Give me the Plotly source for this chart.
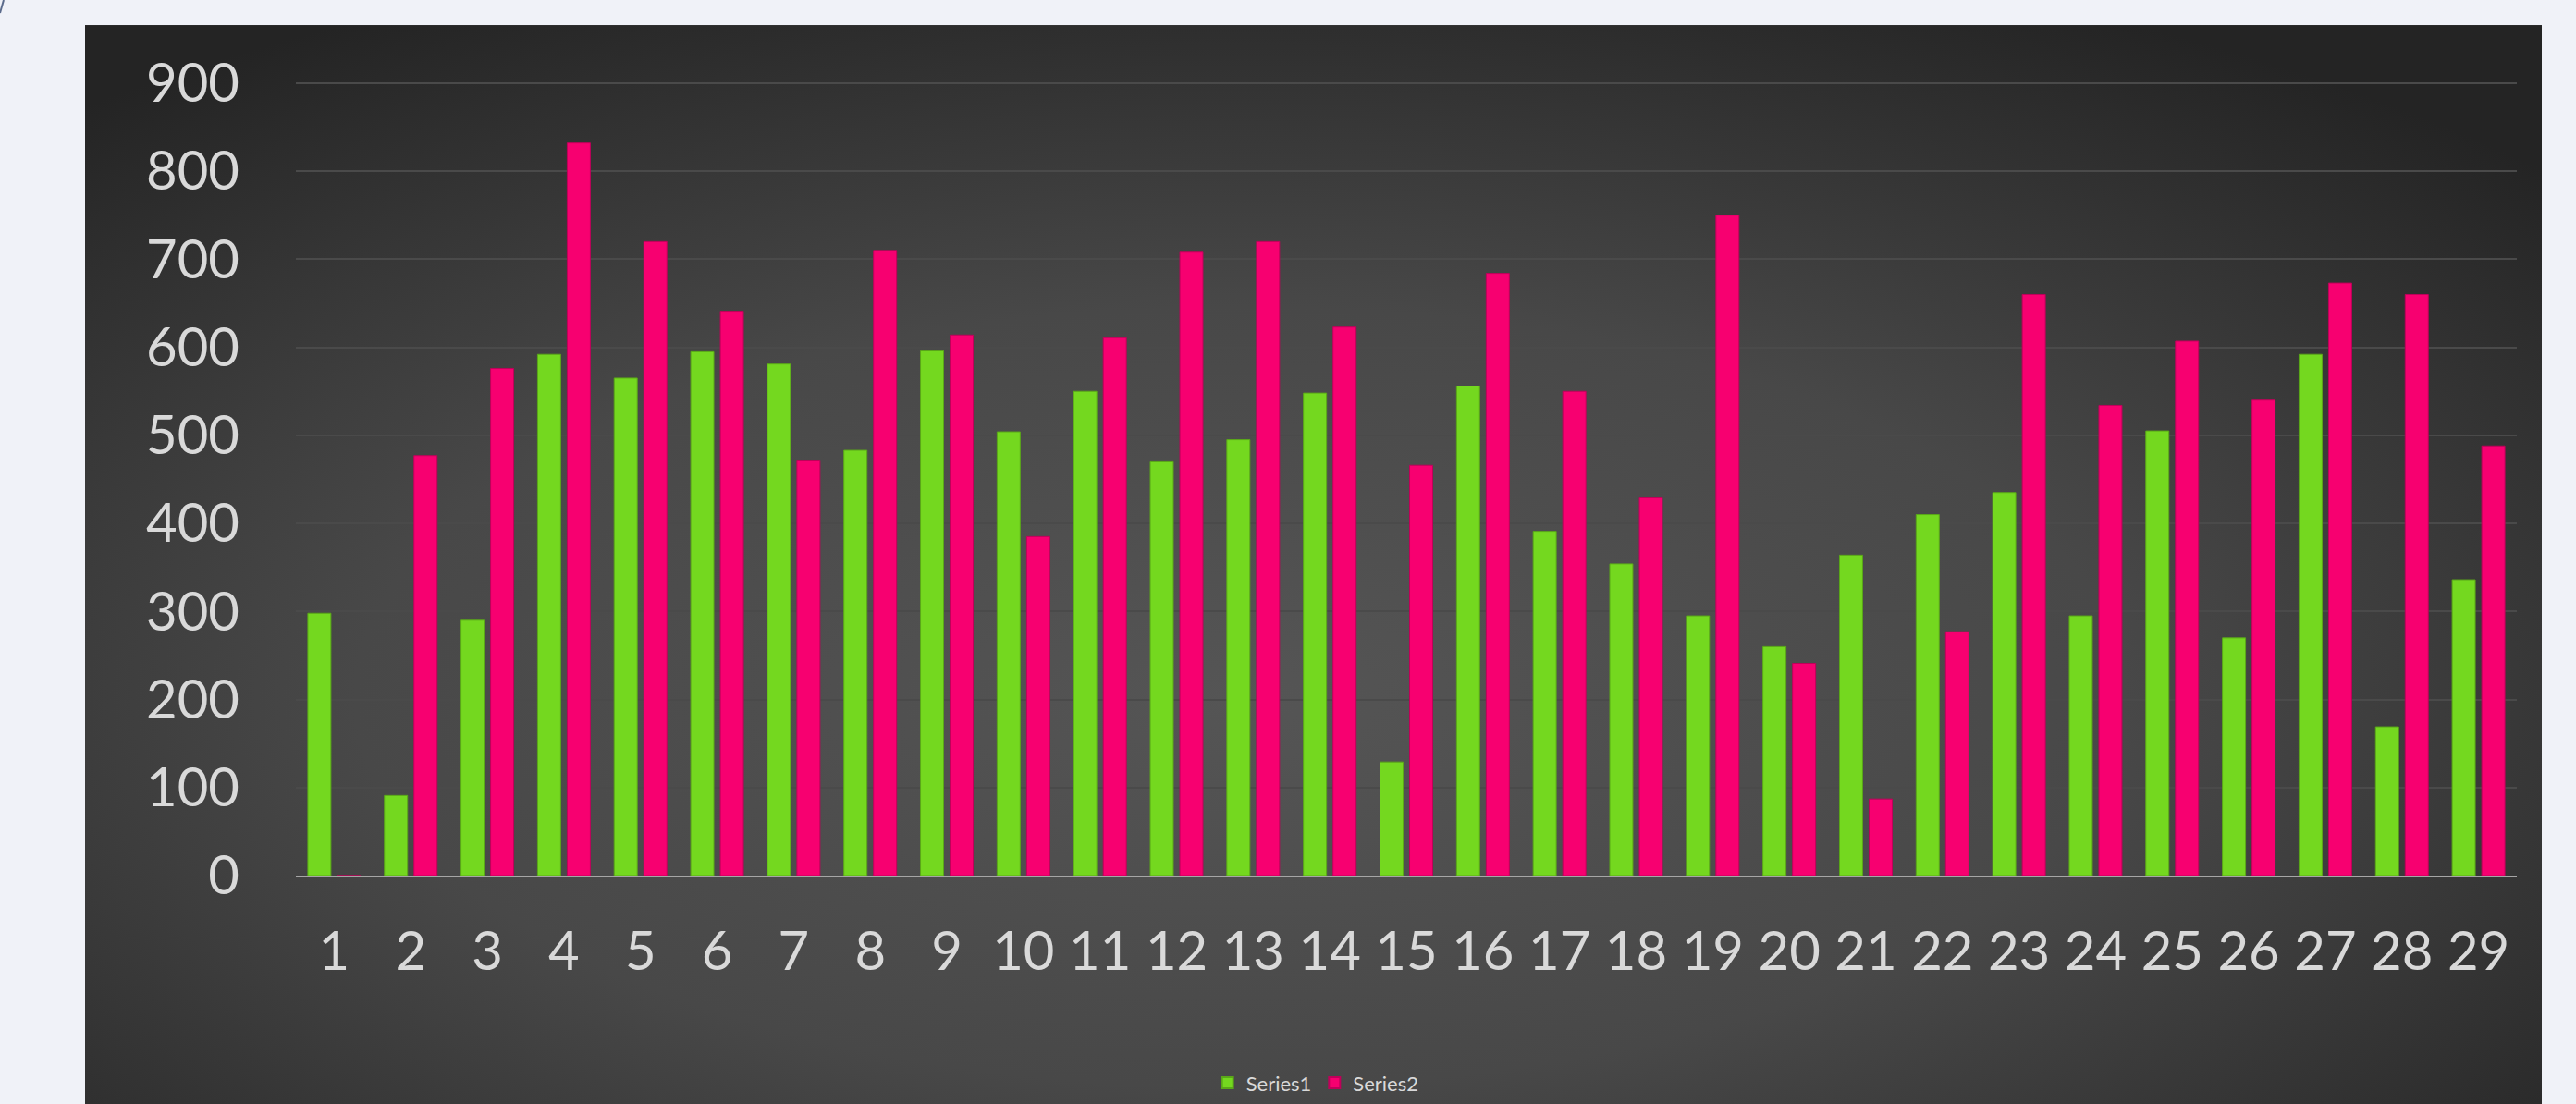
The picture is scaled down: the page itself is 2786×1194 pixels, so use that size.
import base64
import plotly.graph_objects as go

categories = [str(i) for i in range(1, 30)]
series1 = [298, 91, 290, 592, 565, 595, 581, 483, 596, 504,
           550, 470, 495, 548, 129, 556, 391, 354, 295, 260,
           364, 410, 435, 295, 505, 270, 592, 169, 336]
series2 = [0, 477, 576, 832, 720, 641, 471, 710, 614, 385,
           611, 708, 720, 623, 466, 684, 550, 429, 750, 241,
           87, 277, 660, 534, 607, 540, 673, 660, 488]
y_ticks = list(range(0, 1000, 100))

W, H = 2786, 1194
L, R, T, B = 320, 64, 88, 246.5
pw, ph = W - L - R, H - T - B


def px_x(x):
    return (x - L) / pw


def px_y(y):
    return (H - B - y) / ph


svg = (
    "<svg xmlns='http://www.w3.org/2000/svg' width='1000' height='1000' "
    "preserveAspectRatio='none' viewBox='0 0 1000 1000'>"
    "<defs><radialGradient id='g' cx='0.47' cy='0.62' r='0.72'>"
    "<stop offset='0' stop-color='#555555'/>"
    "<stop offset='0.5' stop-color='#484848'/>"
    "<stop offset='1' stop-color='#242424'/>"
    "</radialGradient></defs>"
    "<rect width='1000' height='1000' fill='url(#g)'/></svg>"
)
svg_uri = "data:image/svg+xml;base64," + base64.b64encode(svg.encode()).decode()

fig = go.Figure()
fig.add_trace(go.Bar(
    x=categories, y=series1, name="Series1",
    marker=dict(color="#74D81F", line=dict(color="#5AA818", width=1)),
))
fig.add_trace(go.Bar(
    x=categories, y=series2, name="Series2",
    marker=dict(color="#F70070", line=dict(color="#C0005A", width=1)),
))

x0, x1 = px_x(92), px_x(2749)
y0, y1 = px_y(27), px_y(1200)
fig.add_layout_image(dict(
    source=svg_uri, xref="paper", yref="paper",
    x=x0, y=y0, sizex=x1 - x0, sizey=y0 - y1,
    xanchor="left", yanchor="top", sizing="stretch", layer="below",
))

fig.add_shape(type="line", xref="paper", yref="paper",
              x0=px_x(4), y0=px_y(0), x1=px_x(0), y1=px_y(14),
              line=dict(color="#5B6B8C", width=2))

fig.update_layout(
    width=W, height=H,
    margin=dict(l=L, r=R, t=T, b=B, pad=0),
    paper_bgcolor="#F0F2F8",
    plot_bgcolor="rgba(0,0,0,0)",
    barmode="group", bargap=0.227, bargroupgap=0.22,
    font=dict(family="Lato, Open Sans, sans-serif", color="#D9D9D9"),
    showlegend=True,
    legend=dict(
        orientation="h", xref="container", yref="container",
        x=0.511, y=0.019, xanchor="center", yanchor="middle",
        font=dict(size=22, color="#D9D9D9"), bgcolor="rgba(0,0,0,0)",
        itemsizing="constant",
    ),
)
fig.update_xaxes(
    type="category", showgrid=False, showline=True,
    linecolor="#A6A6A6", linewidth=2, ticks="",
    tickfont=dict(size=58, color="#D9D9D9"), ticklabelstandoff=30,
)
fig.update_yaxes(
    range=[0, 902], tickvals=y_ticks, showgrid=True,
    gridcolor="#4A4A4A", gridwidth=2, zeroline=False, showline=False,
    ticks="", tickfont=dict(size=58, color="#D9D9D9"), ticklabelstandoff=60,
)

fig.write_html("out.html")
